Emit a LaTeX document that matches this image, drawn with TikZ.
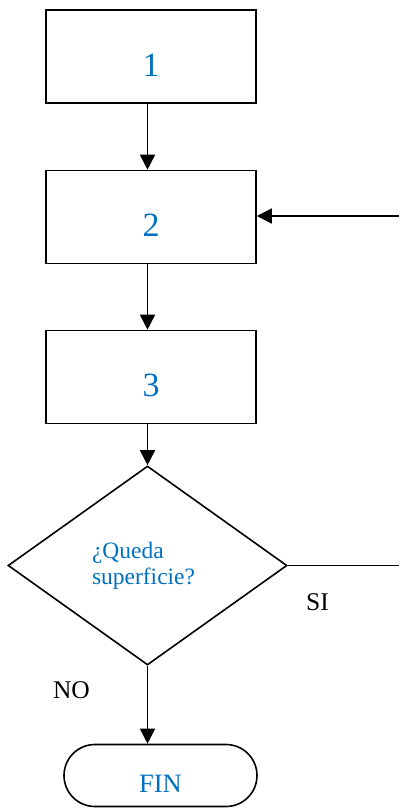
\documentclass[tikz,border=0pt]{standalone}
\usepackage{fontspec}
\setmainfont{Liberation Serif}
\usepackage{tikz}
\usetikzlibrary{positioning,shapes.geometric,arrows.meta}
\definecolor{txtblue}{RGB}{0,112,192}

\begin{document}
\begin{tikzpicture}[x=1pt,y=1pt,
    bb/.style={draw, line width=1.6pt, minimum width=210pt, minimum height=93pt, inner sep=0pt, text=txtblue, font=\fontsize{34}{38}\selectfont, text height=39pt, text depth=0pt},
    dd/.style={draw, diamond, line width=1.6pt, minimum width=279pt, minimum height=199pt, inner sep=0pt, text=txtblue, align=left, text width=111pt, font=\fontsize{23.5}{26}\selectfont},
    tt/.style={draw, line width=1.6pt, rounded corners=31pt, minimum width=193pt, minimum height=62pt, inner sep=0pt, text=txtblue, font=\fontsize{26.5}{30}\selectfont, text height=33pt, text depth=0pt},
    lbl/.style={font=\fontsize{25.5}{28}\selectfont, inner sep=0pt},
    arr/.style={-{Triangle[length=15pt,width=15pt]}, line width=1.6pt}]
            \useasboundingbox (0,0) rectangle (399,-808);
            \node[bb] (b1) at (151,-56.5) {1};
            \node[bb] (b2) at (151,-217) {2};
            \node[bb] (b3) at (151,-377) {3};
            \node[dd] (q) at (147.5,-565.5) {¿Queda\\superficie?};
            \node[tt] (fin) at (160.5,-775.5) {FIN};
            \coordinate (back) at (399,-216);
            \coordinate (out) at (399,-565.5);
            \node[lbl] at (317.5,-602) {SI};
            \node[lbl] at (71.5,-690) {NO};
            \draw[arr] (b1.south -| q.north) -- (b2.north -| q.north);
            \draw[arr] (b2.south -| q.north) -- (b3.north -| q.north);
            \draw[arr] (b3.south -| q.north) -- (q.north);
            \draw[arr] (q.south) -- (fin.north -| q.south);
            \draw[line width=1.6pt] (q.east) -- (out);
            \draw[arr] (back) -- (b2.east |- back);
        \end{tikzpicture}
\end{document}
